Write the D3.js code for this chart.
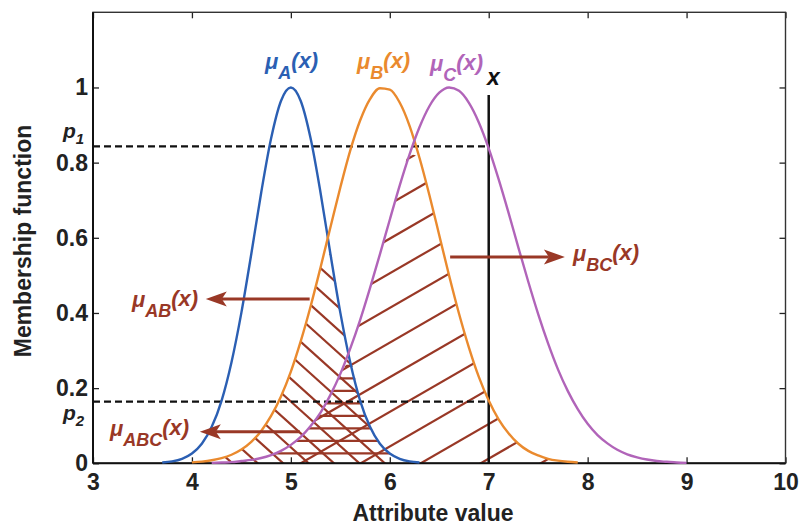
<!DOCTYPE html>
<html><head><meta charset="utf-8">
<script src="https://cdn.jsdelivr.net/npm/d3@7"></script>
<style>
body{margin:0;background:#fff}
svg{display:block}
text{font-family:"Liberation Sans",Arial,Helvetica,sans-serif}
</style>
</head><body>
<svg id="chart" width="799" height="526"></svg>
<script>
// ---------- data ----------
const attributeGrid = [3.7,3.8,3.9,4,4.1,4.2,4.3,4.4,4.5,4.6,4.7,4.8,4.9,5,5.1,5.2,5.3,5.4,5.5,5.6,5.7,5.8,5.9,6,6.1,6.2,6.3,6.4,6.5,6.6,6.7,6.8,6.9,7,7.1,7.2,7.3,7.4,7.5,7.6,7.7,7.8,7.9,8,8.1,8.2,8.3,8.4,8.5,8.6,8.7,8.8,8.9,9];
const muA = [0.002,0.005,0.012,0.026,0.052,0.097,0.167,0.269,0.401,0.557,0.720,0.864,0.964,1,0.964,0.864,0.720,0.557,0.401,0.269,0.167,0.097,0.052,0.026,0.012,0.005,0.002,
  null,null,null,null,null,null,null,null,null,null,null,null,null,null,null,null,null,null,null,null,null,null,null,null,null,null,null];
const muB = [null,null,null,
  0.0025,0.0045,0.008,0.0137,0.0228,0.0367,0.0571,0.0862,0.126,0.178,
  0.244,0.325,0.418,0.521,0.628,0.734,0.832,0.912,0.969,0.998,
  0.994,0.960,0.898,0.813,0.714,0.607,0.499,0.398,0.308,0.230,
  0.167,0.117,0.080,0.052,0.033,0.021,0.012,0.007,0.004,0.002,
  null,null,null,null,null,null,null,null,null,null,null];
const muC = [null,null,null,null,null,
  0.001,0.002,0.003,0.006,0.009,0.014,0.022,0.033,
  0.049,0.070,0.099,0.135,0.182,0.238,0.305,0.381,0.466,0.556,
  0.648,0.739,0.822,0.894,0.950,0.986,1.000,0.991,0.959,0.907,
  0.838,0.756,0.667,0.574,0.483,0.397,0.319,0.250,0.192,0.144,
  0.105,0.075,0.053,0.036,0.024,0.016,0.010,0.006,0.004,0.002,
  0.001];
const xTicks = [3,4,5,6,7,8,9,10];
const xTickLabels = ["3","4","5","6","7","8","9","10"];
const yTicks = [0,0.2,0.4,0.6,0.8,1];
const yTickLabels = ["0","0.2","0.4","0.6","0.8","1"];
const p1Value = 0.843;
const p2Value = 0.164;
const xMarkValue = 7;

// ---------- layout ----------
const L = 93, R = 785.5, T = 12.3, B = 463.3;
const colA = "#2b5fb3", colB = "#ea8a2e", colC = "#b164b9", brown = "#993826";

const svg = d3.select("#chart");
const x = d3.scaleLinear().domain([3, 10]).range([L, R]);
const y = d3.scaleLinear().domain([0, 1.2]).range([B, T]);

const rows = attributeGrid.map((g, i) => ({x: g, a: muA[i], b: muB[i], c: muC[i]}));
const z = v => (v == null ? 0 : v);
const defs = svg.append("defs");

// hatched regions: a family of parallel lines clipped to the region under a min-curve
const area = f => d3.area().x(d => x(d.x)).y0(y(0)).y1(d => y(f(d))).curve(d3.curveMonotoneX);
function hatchRegion(id, f, spacing, angleDeg, phase) {
  defs.append("clipPath").attr("id", id).append("path").datum(rows).attr("d", area(f));
  const g = svg.append("g").attr("clip-path", `url(#${id})`);
  const th = angleDeg * Math.PI / 180;
  const ux = Math.cos(th), uy = Math.sin(th), nx = -Math.sin(th), ny = Math.cos(th);
  const cx = (L + R) / 2, cy = (T + B) / 2;
  d3.range(-60, 61).forEach(k => {
    const ox = cx + nx * (k * spacing + phase), oy = cy + ny * (k * spacing + phase);
    g.append("line")
      .attr("x1", ox - ux * 900).attr("y1", oy - uy * 900)
      .attr("x2", ox + ux * 900).attr("y2", oy + uy * 900)
      .attr("stroke", brown).attr("stroke-width", 2.2);
  });
}
hatchRegion("cAB", d => Math.min(z(d.a), z(d.b)), 17, 42, 0);
hatchRegion("cBC", d => Math.min(z(d.b), z(d.c)), 30, -30, 6);
hatchRegion("cABC", d => Math.min(z(d.a), z(d.b), z(d.c)), 12.5, 0, 3);

// axes with inward ticks
const gL = svg.append("g").attr("transform", `translate(${L},0)`)
  .call(d3.axisLeft(y).tickValues(yTicks).tickFormat((d, i) => yTickLabels[i]).tickSizeInner(-6).tickSizeOuter(0).tickPadding(5));
const gBt = svg.append("g").attr("transform", `translate(0,${B})`)
  .call(d3.axisBottom(x).tickValues(xTicks).tickFormat((d, i) => xTickLabels[i]).tickSizeInner(-6).tickSizeOuter(0).tickPadding(10));
const gR = svg.append("g").attr("transform", `translate(${R},0)`)
  .call(d3.axisRight(y).tickValues(yTicks).tickFormat("").tickSizeInner(-6).tickSizeOuter(0));
const gT = svg.append("g").attr("transform", `translate(0,${T})`)
  .call(d3.axisTop(x).tickValues(xTicks).tickFormat("").tickSizeInner(-6).tickSizeOuter(0));
[gL, gBt, gR, gT].forEach(g => {
  g.select(".domain").remove();
  g.selectAll("line").attr("stroke", "#222").attr("stroke-width", 1.3);
  g.selectAll("text").attr("font-size", "23px").attr("font-weight", "bold").attr("fill", "#222")
    .attr("font-family", "'Liberation Sans',Arial,sans-serif");
});
svg.append("rect").attr("x", L).attr("y", T).attr("width", R - L).attr("height", B - T)
  .attr("fill", "none").attr("stroke", "#333").attr("stroke-width", 1.4);
svg.append("line").attr("x1", L).attr("x2", L).attr("y1", T).attr("y2", B).attr("stroke", "#111").attr("stroke-width", 2);
svg.append("line").attr("x1", L).attr("x2", R).attr("y1", B).attr("y2", B).attr("stroke", "#111").attr("stroke-width", 2);

// axis titles
svg.append("text").attr("x", 433).attr("y", 521).attr("text-anchor", "middle")
  .attr("font-size", "23px").attr("font-weight", "bold").attr("fill", "#222").text("Attribute value");
svg.append("text").attr("transform", "translate(31,241) rotate(-90)").attr("text-anchor", "middle")
  .attr("font-size", "23px").attr("font-weight", "bold").attr("fill", "#222").text("Membership function");

// dashed reference lines and vertical x line
[p1Value, p2Value].forEach(p => {
  svg.append("line").attr("x1", x(3)).attr("x2", x(xMarkValue)).attr("y1", y(p)).attr("y2", y(p))
    .attr("stroke", "#111").attr("stroke-width", 2.2).attr("stroke-dasharray", "7,4");
});
svg.append("line").attr("x1", x(xMarkValue)).attr("x2", x(xMarkValue)).attr("y1", y(0.98)).attr("y2", y(0))
  .attr("stroke", "#111").attr("stroke-width", 2.5);

// membership curves
const line = key => d3.line().defined(d => d[key] != null).x(d => x(d.x)).y(d => y(d[key])).curve(d3.curveMonotoneX);
svg.append("path").datum(rows).attr("d", line("a")).attr("fill", "none").attr("stroke", colA).attr("stroke-width", 2.4);
svg.append("path").datum(rows).attr("d", line("b")).attr("fill", "none").attr("stroke", colB).attr("stroke-width", 2.4);
svg.append("path").datum(rows).attr("d", line("c")).attr("fill", "none").attr("stroke", colC).attr("stroke-width", 2.4);

// labels
function muLabel(dx, dy, sub, color, size, subSize) {
  const t = svg.append("text").attr("x", x(dx)).attr("y", y(dy)).attr("fill", color)
    .attr("font-size", size + "px").attr("font-weight", "bold").attr("font-style", "italic");
  t.append("tspan").text("μ");
  t.append("tspan").attr("dy", 10).attr("font-size", subSize + "px").text(sub);
  t.append("tspan").attr("dy", -11).text("(x)");
}
muLabel(4.739, 1.049, "A", colA, 22, 18);
muLabel(5.669, 1.049, "B", colB, 22, 18);
muLabel(6.406, 1.044, "C", colC, 22, 18);
muLabel(3.394, 0.416, "AB", brown, 22, 18);
muLabel(3.172, 0.073, "ABC", brown, 22, 18);
muLabel(7.852, 0.538, "BC", brown, 22, 18);

svg.append("text").attr("x", x(6.983)).attr("y", y(1.007)).attr("fill", "#111")
  .attr("font-size", "23px").attr("font-weight", "bold").attr("font-style", "italic").text("x");

function pLabel(dy, sub) {
  const t = svg.append("text").attr("x", x(2.697)).attr("y", y(dy)).attr("fill", "#222")
    .attr("font-size", "21px").attr("font-weight", "bold").attr("font-style", "italic");
  t.append("tspan").text("p");
  t.append("tspan").attr("dy", 6).attr("font-size", "15px").text(sub);
}
pLabel(0.866, "1");
pLabel(0.115, "2");

// arrows
function arrow(x0, x1, yv) {
  const px0 = x(x0), px1 = x(x1), py = y(yv);
  const dir = px1 > px0 ? 1 : -1;
  const Lh = 21, Wh = 7.5, notch = 5;
  svg.append("line").attr("x1", px0).attr("x2", px1 - dir * (Lh - notch)).attr("y1", py).attr("y2", py)
    .attr("stroke", brown).attr("stroke-width", 3);
  const pts = [[px1, py], [px1 - dir * Lh, py - Wh], [px1 - dir * (Lh - notch), py], [px1 - dir * Lh, py + Wh]];
  svg.append("path").attr("d", "M" + pts.map(p => p.join(",")).join("L") + "Z").attr("fill", brown);
}
arrow(5.19, 4.14, 0.437);
arrow(5.09, 4.08, 0.084);
arrow(6.61, 7.77, 0.549);
</script>
</body></html>
